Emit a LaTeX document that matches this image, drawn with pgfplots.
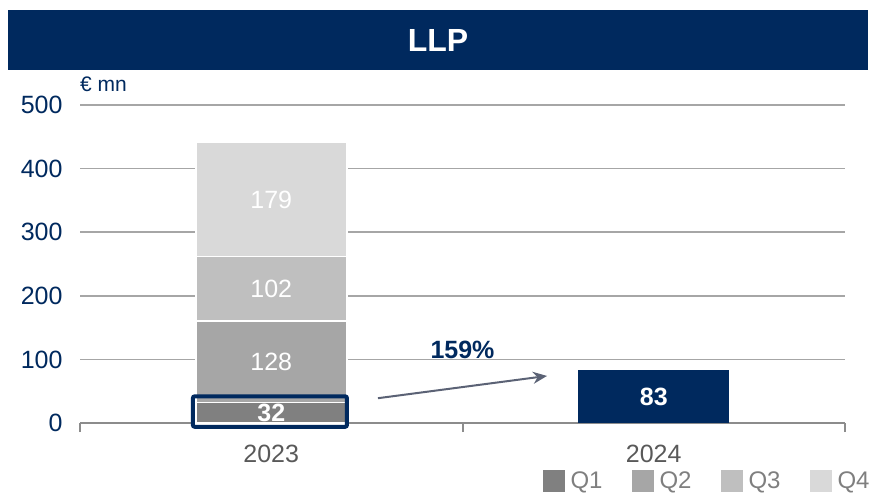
\documentclass[border=0pt]{standalone}
\usepackage{pgfplots}
\pgfplotsset{compat=1.18}
\usepackage{fontspec}
\setmainfont{Liberation Sans}
\usetikzlibrary{arrows.meta}
\definecolor{navy}{HTML}{00295E}
\definecolor{cqa}{HTML}{808080}
\definecolor{cqb}{HTML}{A6A6A6}
\definecolor{cqc}{HTML}{BFBFBF}
\definecolor{cqd}{HTML}{D9D9D9}
\definecolor{gridc}{HTML}{A6A6A6}
\definecolor{axisc}{HTML}{8C8C8C}
\definecolor{ticklab}{HTML}{595959}
\definecolor{legtext}{HTML}{7F7F7F}
\definecolor{arrowc}{HTML}{5B6275}
\begin{document}
\begin{tikzpicture}[x=1pt,y=1pt]
\fill[navy] (8,423) rectangle (868,483);
\node[text=white,font=\fontsize{32}{36}\selectfont\bfseries] at (438,453) {LLP};
\begin{axis}[
  at={(80pt,70pt)}, anchor=south west, scale only axis,
  width=765pt, height=318pt,
  xmin=-0.5, xmax=1.5, ymin=0, ymax=500,
  clip=false,
  ybar stacked, bar width=151pt,
  axis x line*=bottom, axis y line*=left,
  x axis line style={draw=axisc, line width=2pt},
  y axis line style={draw=none},
  ytick={0,100,200,300,400,500},
  /pgf/number format/assume math mode=true,
  ymajorgrids, grid style={draw=gridc, line width=1.5pt},
  major tick length=0pt, minor tick length=9pt, tick align=outside,
  xtick={0,1}, xticklabels={2023,2024},
  minor xtick={-0.5,0.5,1.5},
  minor x tick style={draw=axisc, line width=2pt},
  y tick style={draw=none},
  yticklabel style={text=navy, font=\fontsize{25}{30}\selectfont, xshift=-14pt},
  xticklabel style={text=ticklab, font=\fontsize{25}{30}\selectfont, yshift=-19pt},
  legend columns=4,
  legend style={draw=none, fill=none, at={(1.035,-0.183)}, anchor=east, inner sep=0pt,
    font=\fontsize{24}{28}\selectfont, text=legtext,
    /tikz/every even column/.append style={column sep=27pt},
    /tikz/every odd column/.append style={column sep=4pt}},
  legend image code/.code={\fill[#1,draw=none] (0pt,-11pt) rectangle (22pt,11pt);},
]
\addplot[fill=cqa, draw=white, line width=1.5pt] coordinates {(0,32)};
\addlegendentry{Q1}
\addplot[fill=cqb, draw=white, line width=1.5pt] coordinates {(0,128)};
\addlegendentry{Q2}
\addplot[fill=cqc, draw=white, line width=1.5pt] coordinates {(0,102)};
\addlegendentry{Q3}
\addplot[fill=cqd, draw=white, line width=1.5pt] coordinates {(0,179)};
\addlegendentry{Q4}
\node[anchor=west, text=navy, font=\fontsize{21}{25}\selectfont, inner sep=0pt] at (rel axis cs:0,1.0) [yshift=21pt] {€ mn};
\end{axis}
\begin{axis}[
  at={(80pt,70pt)}, anchor=south west, scale only axis,
  width=765pt, height=318pt,
  xmin=-0.5, xmax=1.5, ymin=0, ymax=500,
  clip=false, hide axis,
  ybar, bar width=151pt,
]
\addplot[fill=navy, draw=none] coordinates {(1,83)};
\node[text=white, font=\fontsize{25}{30}\selectfont\bfseries] at (axis cs:1,41.5) {83};
\node[text=white, font=\fontsize{25}{30}\selectfont\bfseries] at (axis cs:0,16) {32};
\node[text=white, font=\fontsize{25}{30}\selectfont] at (axis cs:0,96) {128};
\node[text=white, font=\fontsize{25}{30}\selectfont] at (axis cs:0,211) {102};
\node[text=white, font=\fontsize{25}{30}\selectfont] at (axis cs:0,351.5) {179};
\draw[navy, line width=4pt, rounded corners=2pt] (axis cs:-0.205,-6) rectangle (axis cs:0.198,42);
\draw[-{Stealth[length=14pt,width=12pt]}, draw=arrowc, fill=arrowc, line width=2pt] (axis cs:0.279,39) -- (axis cs:0.721,74);
\node[text=navy, font=\fontsize{25}{30}\selectfont\bfseries] at (axis cs:0.5,115) {159\%};
\end{axis}
\pgfresetboundingbox
\useasboundingbox (0,0) rectangle (873,493);
\end{tikzpicture}
\end{document}
